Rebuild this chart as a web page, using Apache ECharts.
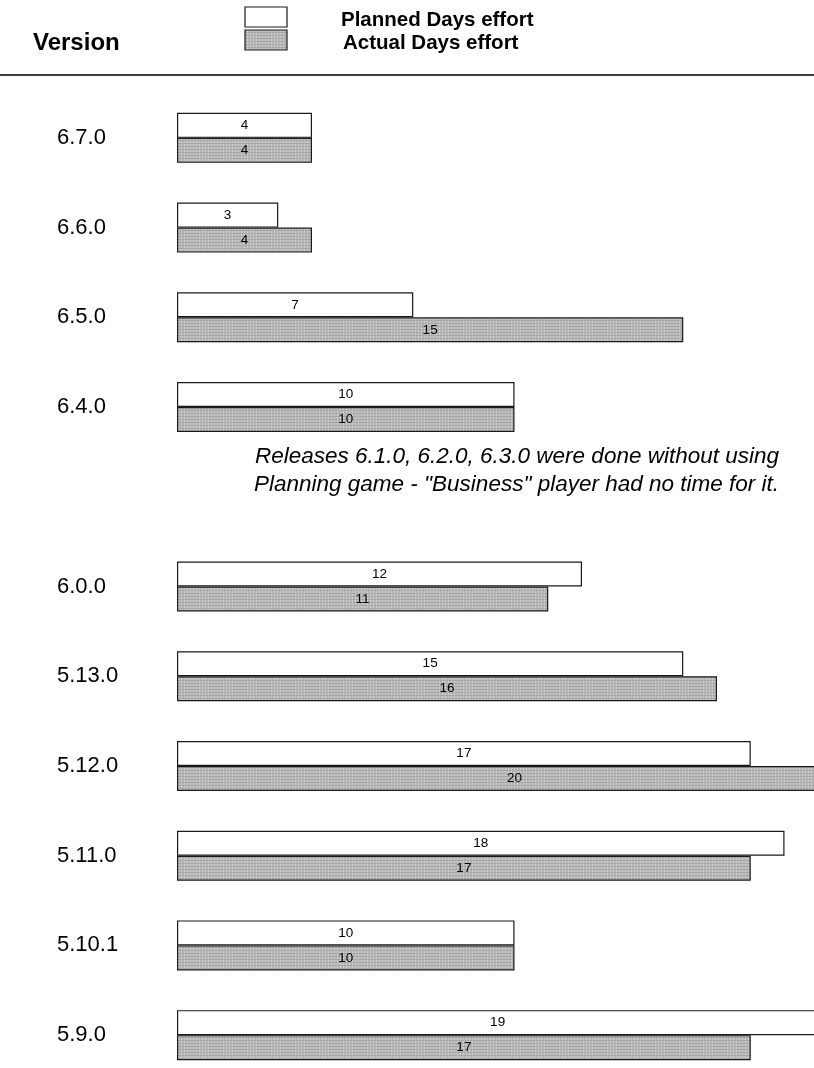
<!DOCTYPE html>
<html>
<head>
<meta charset="utf-8">
<script src="https://cdn.jsdelivr.net/npm/echarts@6/dist/echarts.min.js"></script>
<style>
  html, body { margin: 0; padding: 0; background: #fff; overflow: hidden; }
  #chart { width: 852px; height: 1100px; }
</style>
</head>
<body>
<div id="chart"></div>
<script>
// Releases, newest first; the empty slot holds the note about 6.1.0 - 6.3.0
const versions = ['6.7.0', '6.6.0', '6.5.0', '6.4.0', '', '6.0.0', '5.13.0', '5.12.0', '5.11.0', '5.10.1', '5.9.0'];
const plannedDays = [4, 3, 7, 10, null, 12, 15, 17, 18, 10, 19];
const actualDays = [4, 4, 15, 10, null, 11, 16, 20, 17, 10, 17];
const seriesNames = ['Planned Days effort', 'Actual Days effort'];
const noteLines = [
  'Releases 6.1.0, 6.2.0, 6.3.0 were done without using',
  'Planning game - "Business" player had no time for it.'
];

// Fine grey screen used for the "actual" bars
function greyScreen() {
  const c = document.createElement('canvas');
  c.width = 3; c.height = 3;
  const g = c.getContext('2d');
  g.fillStyle = '#b5b5b5';
  g.fillRect(0, 0, 3, 3);
  g.fillStyle = '#cfcfcf';
  g.fillRect(1, 0, 1, 3);
  g.fillStyle = '#a8a8a8';
  g.fillRect(0, 2, 3, 1);
  return c;
}

const FONT = '"Liberation Sans", Arial, sans-serif';
const screenFill = { image: greyScreen(), repeat: 'repeat' };
const outline = '#1a1a1a';
const chart = echarts.init(document.getElementById('chart'), null, { renderer: 'canvas' });

const barLabel = { show: true, position: 'inside', color: '#000', fontSize: 13.5, fontFamily: FONT };

chart.setOption({
  animation: false,
  backgroundColor: '#fff',
  grid: { left: 177, right: 0, top: 93, height: 987 },
  xAxis: {
    type: 'value', min: 0, max: 20,
    show: false
  },
  yAxis: {
    type: 'category',
    inverse: true,
    data: versions,
    axisLine: { show: false },
    axisTick: { show: false },
    splitLine: { show: false },
    axisLabel: { align: 'left', margin: 120, fontSize: 22, fontFamily: FONT, color: '#000' }
  },
  series: [
    {
      name: seriesNames[0],
      type: 'bar',
      data: plannedDays,
      barWidth: 25,
      barGap: '0%',
      itemStyle: { color: '#fff', borderColor: outline, borderWidth: 1.2 },
      label: barLabel
    },
    {
      name: seriesNames[1],
      type: 'bar',
      data: actualDays,
      barWidth: 25,
      barGap: '0%',
      itemStyle: { color: screenFill, borderColor: outline, borderWidth: 1.2 },
      label: barLabel
    }
  ],
  graphic: [
    {
      type: 'text', x: 33, y: 43,
      style: { text: 'Version', font: 'bold 24px ' + FONT, fill: '#000', verticalAlign: 'middle' }
    },
    // key boxes and captions
    {
      type: 'rect',
      shape: { x: 245, y: 7, width: 42, height: 20 },
      style: { fill: '#fff', stroke: outline, lineWidth: 1.2 }
    },
    {
      type: 'rect',
      shape: { x: 245, y: 30, width: 42, height: 20 },
      style: { fill: screenFill, stroke: outline, lineWidth: 1.2 }
    },
    {
      type: 'text', x: 341, y: 20,
      style: { text: seriesNames[0], font: 'bold 20.5px ' + FONT, fill: '#000', verticalAlign: 'middle' }
    },
    {
      type: 'text', x: 343, y: 43,
      style: { text: seriesNames[1], font: 'bold 20.5px ' + FONT, fill: '#000', verticalAlign: 'middle' }
    },
    {
      type: 'line',
      shape: { x1: 0, y1: 75, x2: 814, y2: 75 },
      style: { stroke: '#000', lineWidth: 1.5 }
    },
    {
      type: 'text', x: 779, y: 471,
      style: {
        text: noteLines.join('\n'),
        font: 'italic 22.5px ' + FONT,
        lineHeight: 28,
        align: 'right',
        verticalAlign: 'middle',
        fill: '#000'
      }
    }
  ]
});
</script>
</body>
</html>
